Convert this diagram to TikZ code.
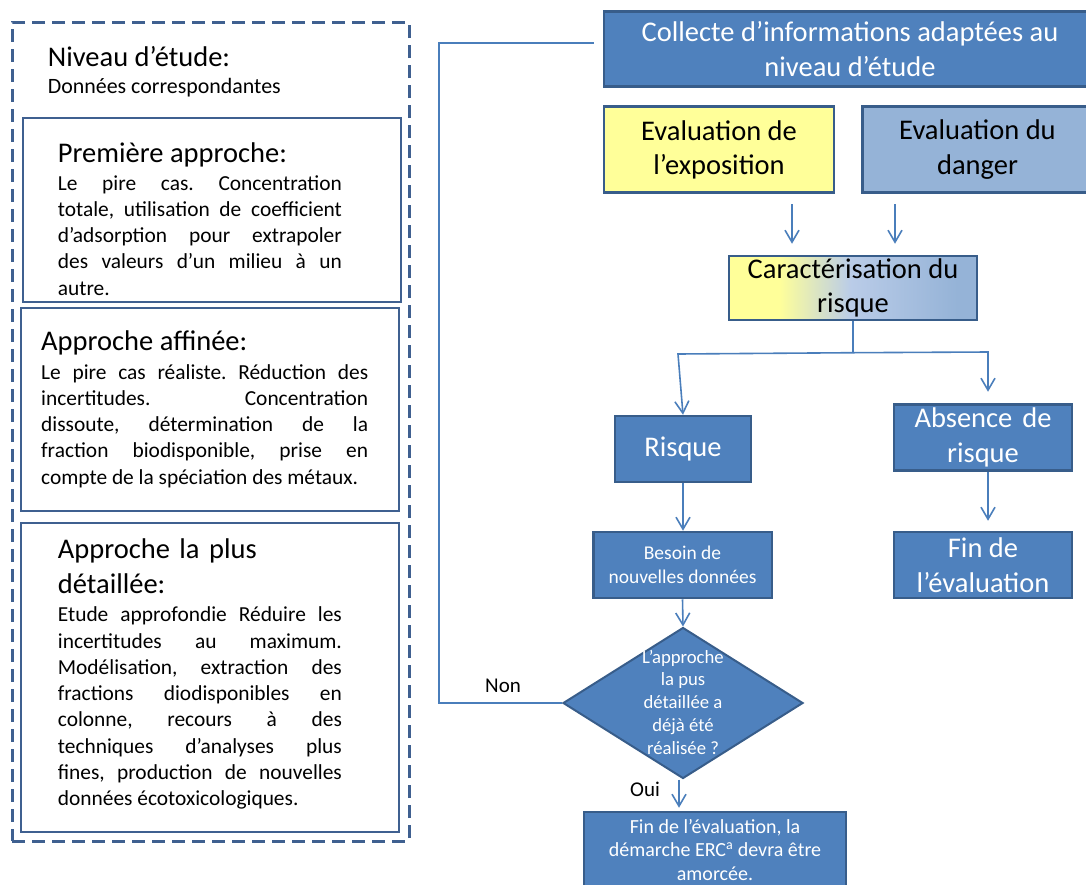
\documentclass[tikz,border=0pt]{standalone}
\usepackage{fontspec}
\setmainfont{Carlito}
\usetikzlibrary{shapes.geometric,arrows.meta,calc}
\definecolor{bfill}{HTML}{4F81BD}
\definecolor{bdark}{HTML}{385D8A}
\definecolor{lbord}{HTML}{3F6090}
\definecolor{lcol}{HTML}{4A7EBB}
\definecolor{cyel}{HTML}{FFFF99}
\definecolor{cmid}{HTML}{BACCE8}
\definecolor{cdang}{HTML}{95B3D7}
\pgfdeclarehorizontalshading{caractshade}{100bp}{color(0bp)=(cyel); color(35bp)=(cyel); color(49.5bp)=(cmid); color(71bp)=(cdang); color(100bp)=(cdang)}
\newcommand\bigtxt{\fontsize{28.5}{34.6}\selectfont}
\newcommand\titletxt{\fontsize{28.5}{35.5}\selectfont}
\newcommand\bodytxt{\fontsize{21.4}{26.3}\selectfont\frenchspacing\hyphenpenalty=10000\exhyphenpenalty=10000\tolerance=10000}
\newcommand\smalltxt{\fontsize{19.5}{24}\selectfont}
\newcommand\dtxt{\fontsize{18.7}{22.8}\selectfont}
\newcommand\ftxt{\fontsize{20}{23.7}\selectfont}
\begin{document}
\frenchspacing
\begin{tikzpicture}[x=1pt,y=-1pt,
  bluebox/.style={draw=bdark, line width=2.5pt, fill=bfill, text=white, inner sep=0pt, align=center, font=\bigtxt},
  lightbox/.style={draw=bdark, line width=2.5pt, text=black, inner sep=0pt, align=center, font=\bigtxt},
  leftbox/.style={draw=lbord, line width=2.5pt, inner sep=0pt},
  dashbox/.style={draw=lbord, line width=3pt, dash pattern=on 13pt off 7pt, inner sep=0pt},
  titlenode/.style={inner sep=0pt, anchor=base west, font=\titletxt, align=left},
  bodynode/.style={inner sep=0pt, anchor=base west, font=\bodytxt, align=justify},
  conn/.style={draw=lcol, line width=1.6pt},
  arr/.style={conn, -{Straight Barb[length=12pt,width=14pt,line width=1.6pt]}},
  lbl/.style={inner sep=0pt, anchor=base west, font=\fontsize{21}{25}\selectfont}
]
\useasboundingbox (0,0) rectangle (1086,884);
\clip (0,0) rectangle (1086,884);

% ---------- left column ----------
\node[dashbox, minimum width=397, minimum height=819] (outer) at (210.5,431.5) {};
\node[leftbox, minimum width=378, minimum height=184] (b1) at (212,210) {};
\node[leftbox, minimum width=378, minimum height=203] (b2) at (210,409.5) {};
\node[leftbox, minimum width=378, minimum height=309] (b3) at (210,677.5) {};

\node[titlenode] (nivt) at (47.7,66.7) {Niveau d’étude:};
\node[inner sep=0pt, anchor=base west, font=\fontsize{21.9}{26.3}\selectfont] (nivd) at (47.7,93) {Données correspondantes};

\node[titlenode] (t1) at (57.7,162.7) {Première approche:};
\node[bodynode, text width=284] (p1) at (57.7,190) {Le pire cas. Concentration\linebreak
totale, utilisation de coefficient\linebreak
d’adsorption pour extrapoler\linebreak
des valeurs d’un milieu à un\linebreak
autre.};

\node[titlenode] (t2) at (41,350.7) {Approche affinée:};
\node[bodynode, text width=327] (p2) at (41,379) {Le pire cas réaliste. Réduction des\linebreak
incertitudes. Concentration\linebreak
dissoute, détermination de la\linebreak
fraction biodisponible, prise en\linebreak
compte de la spéciation des métaux.};

\node[titlenode, text width=300] (t3) at (57.7,558) {Approche\hspace{9.4pt}la plus\\détaillée:};
\node[bodynode, text width=284] (p3) at (57.7,621.7) {Etude approfondie Réduire les\linebreak
incertitudes au maximum.\linebreak
Modélisation, extraction des\linebreak
fractions diodisponibles en\linebreak
colonne, recours à des\linebreak
techniques d’analyses plus\linebreak
fines, production de nouvelles\linebreak
données écotoxicologiques.};

% ---------- right column ----------
\node[bluebox, minimum width=492, minimum height=75] (collect) at (850,49.2) {Collecte d’informations adaptées au\\niveau d’étude};
\node[lightbox, fill=cyel, minimum width=230, minimum height=86] (evalexp) at (719,149.7) {Evaluation de\\l’exposition};
\node[lightbox, fill=cdang, minimum width=230, minimum height=86] (danger) at (977.5,149.7) {Evaluation du\\danger};
\node[lightbox, shading=caractshade, minimum width=248, minimum height=64] (caract) at (853,288) {Caractérisation du\\risque};
\node[bluebox, minimum width=136, minimum height=66] (risque) at (683,449) {Risque};
\node[bluebox, minimum width=178, minimum height=66] (absence) at (983,437.5) {Absence\hspace{10pt}de\\risque};
\node[bluebox, minimum width=178, minimum height=66] (fin) at (983,565) {Fin de\\l’évaluation};
\node[bluebox, font=\smalltxt, minimum width=178.5, minimum height=66] (besoin) at (682.5,565) {Besoin de\\nouvelles données};
\node[draw=bdark, line width=2pt, fill=bfill, diamond, inner sep=0pt, minimum width=240, minimum height=151] (diam) at (683,703) {};
\node[inner sep=0pt, anchor=base, text=white, font=\dtxt, text width=160, align=flush center] (dtext) at (683,663) {L’approche\\la pus\\détaillée a\\déjà été\\réalisée ?};
\node[bluebox, font=\ftxt, minimum width=262, minimum height=76] (final) at (715,850) {Fin de l’évaluation, la\\démarche ERC\textsuperscript{a} devra être\\amorcée.};

% ---------- connectors ----------
\coordinate (ax1) at (792,0);
\coordinate (ax2) at (895,0);
\draw[arr, shorten <=10.5pt, shorten >=11pt] (evalexp.south -| ax1) -- (caract.north -| ax1);
\draw[arr, shorten <=10.5pt, shorten >=11pt] (danger.south -| ax2) -- (caract.north -| ax2);

\coordinate (split) at (853,352.7);
\coordinate (lb) at (678,354);
\coordinate (rb) at (988,352);
\draw[conn] (caract.south) -- (split);
\draw[arr] (split) -- (lb) -- (risque.north);
\draw[arr, shorten >=11.5pt] (split) -- (rb) -- (absence.north -| rb);
\draw[arr] (risque.south) -- (besoin.north -| risque.south);
\draw[arr, shorten >=10pt] (absence.south -| rb) -- (fin.north -| rb);
\draw[arr] (besoin.south) -- (diam.north);

\coordinate (ox) at (679,0);
\draw[arr, shorten >=3pt] (diam.south -| ox) -- (final.north -| ox);

\coordinate (nc1) at (439,703);
\coordinate (nc2) at (439,43);
\coordinate (nend) at (594,43);
\draw[conn] (diam.west) -- (nc1) -- (nc2) -- (nend);

\node[lbl] (non) at (485,692.7) {Non};
\node[lbl] (oui) at (630,796) {Oui};
\end{tikzpicture}
\end{document}
